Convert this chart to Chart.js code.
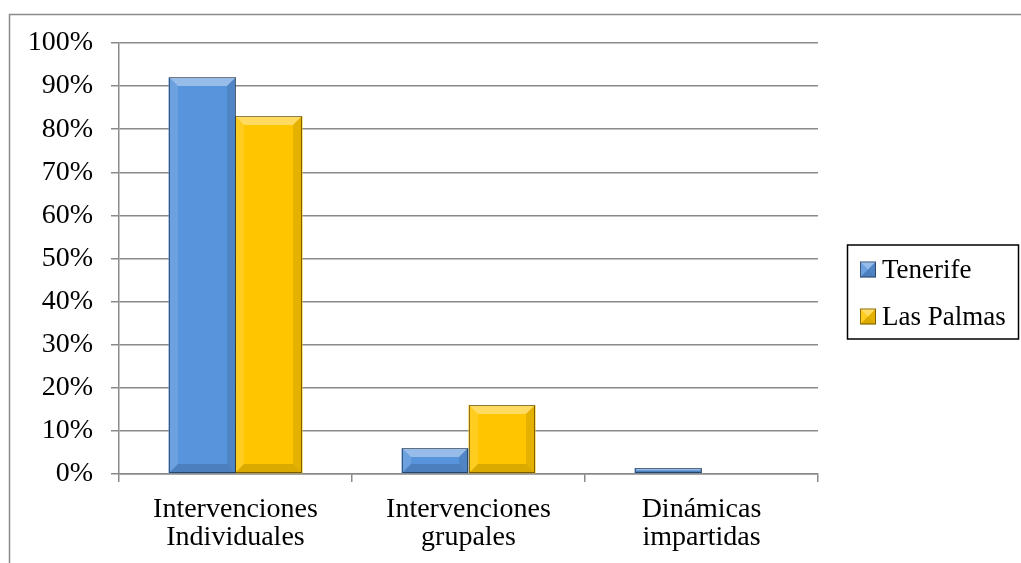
<!DOCTYPE html>
<html>
<head>
<meta charset="utf-8">
<title>Intervenciones por isla</title>
<script src="https://cdn.jsdelivr.net/npm/chart.js@4.4.1/dist/chart.umd.min.js"></script>
<style>
    html, body { margin: 0; padding: 0; background: #fff; }
    #wrap { width: 1021px; height: 563px; position: relative; }
</style>
</head>
<body>
<div id="wrap"><canvas id="chart"></canvas></div>
<script>
// Chart data
const categories = [
    ['Intervenciones', 'Individuales'],
    ['Intervenciones', 'grupales'],
    ['Dinámicas', 'impartidas']
];
const seriesNames = ['Tenerife', 'Las Palmas'];
const tenerife = [92, 6, 1.4];
const lasPalmas = [83, 16, 0];
const yTicks = [0, 10, 20, 30, 40, 50, 60, 70, 80, 90, 100];

const blue = '#5894dc';
const yellow = '#ffc600';
const gridColor = '#8a8a8a';
const fontFamily = '"Liberation Serif", "DejaVu Serif", serif';

// draws a simple bevel over a rectangle
function drawBevel(ctx, x0, y0, x1, y1) {
    const w = x1 - x0, h = y1 - y0;
    if (w <= 0 || h <= 0) return;
    const b = Math.min(9, h / 2, w / 2);
    ctx.save();
    ctx.fillStyle = 'rgba(255,255,255,0.38)';
    ctx.beginPath();
    ctx.moveTo(x0, y0); ctx.lineTo(x1, y0); ctx.lineTo(x1 - b, y0 + b); ctx.lineTo(x0 + b, y0 + b);
    ctx.closePath(); ctx.fill();
    ctx.fillStyle = 'rgba(255,255,255,0.12)';
    ctx.beginPath();
    ctx.moveTo(x0, y0); ctx.lineTo(x0 + b, y0 + b); ctx.lineTo(x0 + b, y1 - b); ctx.lineTo(x0, y1);
    ctx.closePath(); ctx.fill();
    ctx.fillStyle = 'rgba(0,0,0,0.1)';
    ctx.beginPath();
    ctx.moveTo(x1, y0); ctx.lineTo(x1 - b, y0 + b); ctx.lineTo(x1 - b, y1 - b); ctx.lineTo(x1, y1);
    ctx.closePath(); ctx.fill();
    ctx.fillStyle = 'rgba(0,0,0,0.14)';
    ctx.beginPath();
    ctx.moveTo(x0, y1); ctx.lineTo(x0 + b, y1 - b); ctx.lineTo(x1 - b, y1 - b); ctx.lineTo(x1, y1);
    ctx.closePath(); ctx.fill();
    ctx.strokeStyle = 'rgba(0,0,0,0.45)';
    ctx.lineWidth = 1;
    ctx.strokeRect(x0 + 0.5, y0 + 0.5, w - 1, h - 1);
    ctx.restore();
}

const outerBorder = {
    id: 'outerBorder',
    beforeDraw(chart) {
        const ctx = chart.ctx;
        ctx.save();
        ctx.strokeStyle = gridColor;
        ctx.lineWidth = 1.5;
        ctx.beginPath();
        ctx.moveTo(9.5, chart.height);
        ctx.lineTo(9.5, 14.5);
        ctx.lineTo(chart.width, 14.5);
        ctx.stroke();
        ctx.restore();
    }
};

const bevelBars = {
    id: 'bevelBars',
    afterDatasetsDraw(chart) {
        const ctx = chart.ctx;
        chart.data.datasets.forEach((ds, i) => {
            chart.getDatasetMeta(i).data.forEach(bar => {
                const p = bar.getProps(['x', 'y', 'base', 'width'], true);
                const left = Math.round(p.x - p.width / 2);
                const right = Math.round(p.x + p.width / 2);
                drawBevel(ctx, left, Math.round(Math.min(p.y, p.base)), right, Math.round(Math.max(p.y, p.base)));
            });
        });
    }
};

// legend with a frame, like the original
const boxLegend = {
    id: 'boxLegend',
    afterDraw(chart) {
        const ctx = chart.ctx;
        const area = chart.chartArea;
        const left = area.right + 29;
        const right = chart.width - 3;
        const top = chart.height / 2 - 37;
        const rowGap = 47;
        const height = 94;
        ctx.save();
        ctx.strokeStyle = '#000';
        ctx.lineWidth = 1.5;
        ctx.strokeRect(left + 0.5, top + 0.5, right - left, height);
        ctx.font = '27px ' + fontFamily;
        ctx.textBaseline = 'middle';
        chart.data.datasets.forEach((ds, i) => {
            const cy = top + 25 + i * rowGap;
            const mx = left + 13;
            ctx.fillStyle = ds.backgroundColor;
            ctx.fillRect(mx, cy - 8, 16, 16);
            drawBevel(ctx, mx, cy - 8, mx + 16, cy + 8);
            ctx.fillStyle = '#000';
            ctx.fillText(ds.label, mx + 22, cy + 1);
        });
        ctx.restore();
    }
};

const ctx = document.getElementById('chart').getContext('2d');
const chart = new Chart(ctx, {
    type: 'bar',
    data: {
        labels: categories,
        datasets: [
            {
                label: seriesNames[0],
                data: tenerife,
                backgroundColor: blue,
                borderWidth: 0,
                barPercentage: 1,
                categoryPercentage: 0.575
            },
            {
                label: seriesNames[1],
                data: lasPalmas,
                backgroundColor: yellow,
                borderWidth: 0,
                barPercentage: 1,
                categoryPercentage: 0.575
            }
        ]
    },
    options: {
        responsive: true,
        maintainAspectRatio: false,
        animation: false,
        layout: {
            padding: { top: 43, right: 203, bottom: 0, left: 0 }
        },
        plugins: {
            legend: { display: false },
            tooltip: { enabled: false }
        },
        scales: {
            x: {
                grid: {
                    display: true,
                    offset: true,
                    drawOnChartArea: false,
                    color: gridColor,
                    lineWidth: 1.5,
                    tickLength: 8
                },
                border: { color: gridColor, width: 1.5 },
                ticks: {
                    color: '#000',
                    padding: 14,
                    font: { family: fontFamily, size: 28, lineHeight: 1.0 },
                    maxRotation: 0
                },
                afterFit(scale) { scale.height = 89; }
            },
            y: {
                min: 0,
                max: 100,
                afterBuildTicks(scale) {
                    scale.ticks = yTicks.map(v => ({ value: v }));
                },
                grid: {
                    color: gridColor,
                    lineWidth: 1.5,
                    tickLength: 8
                },
                border: { color: gridColor, width: 1.5 },
                ticks: {
                    color: '#000',
                    padding: 18,
                    font: { family: fontFamily, size: 28 },
                    callback: v => v + '%'
                },
                afterFit(scale) { scale.width = 119; }
            }
        }
    },
    plugins: [outerBorder, bevelBars, boxLegend]
});
</script>
</body>
</html>
